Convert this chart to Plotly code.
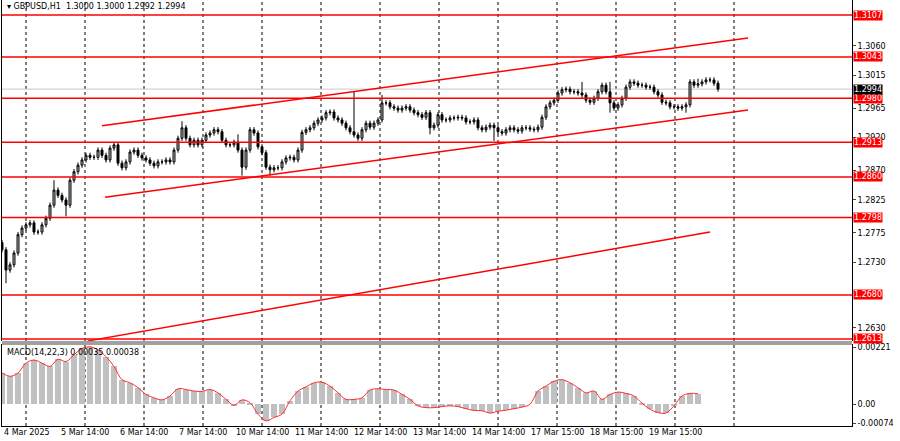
import plotly.graph_objects as go

# hourly-ish closes (GBPUSD H1, 4-19 Mar 2025)
closes = [
    1.2749, 1.2718, 1.2726, 1.2744, 1.2772, 1.2782, 1.2787, 1.2790, 1.2776, 1.2776,
    1.2787, 1.2797, 1.2817, 1.2840, 1.2832, 1.2825, 1.2817, 1.2855, 1.2868, 1.2878,
    1.2886, 1.2893, 1.2890, 1.2890, 1.2901, 1.2893, 1.2886, 1.2904, 1.2909, 1.2881,
    1.2874, 1.2883, 1.2898, 1.2901, 1.2893, 1.2889, 1.2886, 1.2881, 1.2877, 1.2883,
    1.2883, 1.2886, 1.2883, 1.2901, 1.2919, 1.2935, 1.2919, 1.2909, 1.2916, 1.2909,
    1.2916, 1.2924, 1.2927, 1.2932, 1.2929, 1.2916, 1.2909, 1.2909, 1.2913, 1.2901,
    1.2875, 1.2901, 1.2932, 1.2927, 1.2906, 1.2897, 1.2875, 1.2871, 1.2874, 1.2874,
    1.2883, 1.2889, 1.2890, 1.2886, 1.2901, 1.2928, 1.2932, 1.2935, 1.2942, 1.2947,
    1.2950, 1.2958, 1.2959, 1.2950, 1.2947, 1.2942, 1.2935, 1.2929, 1.2924, 1.2919,
    1.2932, 1.2942, 1.2936, 1.2942, 1.2947, 1.2973, 1.2973, 1.2967, 1.2965, 1.2962,
    1.2965, 1.2967, 1.2962, 1.2958, 1.2955, 1.2951, 1.2958, 1.2935, 1.2939, 1.2955,
    1.2947, 1.2947, 1.2950, 1.2950, 1.2951, 1.2950, 1.2944, 1.2944, 1.2947, 1.2935,
    1.2932, 1.2936, 1.2939, 1.2935, 1.2929, 1.2927, 1.2932, 1.2935, 1.2932, 1.2930,
    1.2935, 1.2935, 1.2933, 1.2932, 1.2936, 1.2951, 1.2967, 1.2973, 1.2977, 1.2988,
    1.2993, 1.2994, 1.2990, 1.2990, 1.2988, 1.2985, 1.2977, 1.2974, 1.2980, 1.2990,
    1.3000, 1.2990, 1.2973, 1.2965, 1.2970, 1.2980, 1.2997, 1.3005, 1.3003, 1.3000,
    1.3000, 1.2997, 1.2997, 1.2990, 1.2985, 1.2974, 1.2973, 1.2967, 1.2967, 1.2965,
    1.2967, 1.2970, 1.3005, 1.3000, 1.3002, 1.3005, 1.3008, 1.3008, 1.3003, 1.2994,
]
first_open = 1.2760
wick = 0.0004
spikes_high = {13: 1.2855, 45: 1.2945, 59: 1.2925, 88: 1.2990, 95: 1.2985, 145: 1.3005, 152: 1.3005, 174: 1.3010}
spikes_low = {1: 1.2698, 16: 1.2800, 60: 1.2862, 67: 1.2862, 107: 1.2925, 123: 1.2915, 152: 1.2958, 171: 1.2958}

levels = [1.3107, 1.3043, 1.2980, 1.2913, 1.2860, 1.2798, 1.2680, 1.2613]
last_price = 1.2994
price_ticks = [1.3060, 1.3015, 1.2965, 1.2920, 1.2870, 1.2825, 1.2775, 1.2730, 1.2630]

# trend lines: (x0, y0, x1, y1) in bar index / price
trend_lines = [
    (25.0, 1.2938, 186.5, 1.3072),
    (25.75, 1.2829, 186.5, 1.2962),
    (21.5, 1.2610, 177.0, 1.2776),
]

macd = [
    0.00121, 0.00108, 0.00121, 0.00159, 0.00171, 0.00159, 0.00146, 0.00174, 0.00165, 0.00191,
    0.00216, 0.00222, 0.00210, 0.00184, 0.00146, 0.00095, 0.00083, 0.00064, 0.00038, 0.00025,
    0.00017, 0.00032, 0.00060, 0.00057, 0.00051, 0.00050, 0.00057, 0.00044, 0.00019, -0.00004,
    0.00017, 0.00006, -0.00038, -0.00064, -0.00051, -0.00038, 0.00013, 0.00051, 0.00067, 0.00083,
    0.00085, 0.00070, 0.00044, 0.00019, 0.00019, 0.00025, 0.00055, 0.00060, 0.00057, 0.00055,
    0.00038, 0.00019, -0.00006, -0.00013, -0.00013, -0.00009, -0.00006, -0.00009, -0.00017, -0.00024,
    -0.00025, -0.00034, -0.00027, -0.00023, -0.00017, -0.00011, 0.00000, 0.00051, 0.00070, 0.00089,
    0.00095, 0.00083, 0.00064, 0.00044, 0.00051, 0.00019, 0.00038, 0.00047, 0.00042, 0.00032,
    0.00004, -0.00019, -0.00032, -0.00034, -0.00006, 0.00032, 0.00042, 0.00041,
]

grid_idx = [6 + 14.75 * k for k in range(13)]
date_labels = ["4 Mar 2025", "5 Mar 14:00", "6 Mar 14:00", "7 Mar 14:00", "10 Mar 14:00",
               "11 Mar 14:00", "12 Mar 14:00", "13 Mar 14:00", "14 Mar 14:00", "17 Mar 15:00",
               "18 Mar 15:00", "19 Mar 15:00"]

opens = [first_open] + closes[:-1]
highs, lows = [], []
for i, (o, c) in enumerate(zip(opens, closes)):
    highs.append(max(spikes_high.get(i, 0), max(o, c) + wick))
    lows.append(min(spikes_low.get(i, 9), min(o, c) - wick))
idx = list(range(len(closes)))
macd_idx = [2 * i for i in range(len(macd))]

fig = go.Figure()
fig.add_trace(go.Candlestick(
    x=idx, open=opens, high=highs, low=lows, close=closes,
    increasing=dict(line=dict(color="#000000", width=1), fillcolor="#bbbbbb"),
    decreasing=dict(line=dict(color="#000000", width=1), fillcolor="#000000"),
    whiskerwidth=0, showlegend=False, xaxis="x", yaxis="y"))
fig.add_trace(go.Bar(x=macd_idx, y=macd, width=1.6, marker_color="#c0c0c0",
                     marker_line_width=0, showlegend=False, xaxis="x", yaxis="y2"))
fig.add_trace(go.Scatter(x=macd_idx, y=macd, mode="lines", line=dict(color="#ff3030", width=1),
                         line_shape="spline", showlegend=False, xaxis="x", yaxis="y2"))

shapes = []
for g in grid_idx:
    for yr in ["y", "y2"]:
        shapes.append(dict(type="line", xref="x", yref=yr + " domain", x0=g, x1=g, y0=0, y1=1,
                           line=dict(color="#000000", width=1, dash="3px,3px"), layer="below"))
shapes.append(dict(type="line", xref="x domain", yref="y", x0=0, x1=1, y0=last_price, y1=last_price,
                   line=dict(color="#c8c8c8", width=1), layer="below"))
for lv in levels:
    shapes.append(dict(type="line", xref="x domain", yref="y", x0=0, x1=1, y0=lv, y1=lv,
                       line=dict(color="#ff0000", width=1.5)))
for x0, y0, x1, y1 in trend_lines:
    shapes.append(dict(type="line", xref="x", yref="y", x0=x0, y0=y0, x1=x1, y1=y1,
                       line=dict(color="#ff0000", width=1.5)))
shapes.append(dict(type="rect", xref="paper", yref="paper", x0=0, x1=1, y0=0.1901, y1=0.1995,
                   fillcolor="#a0a0a0", line=dict(width=0)))

ann = []
for lv in levels:
    ann.append(dict(xref="paper", yref="y", x=1.001, y=lv, text=f"{lv:.4f}", showarrow=False,
                    xanchor="left", font=dict(color="white", size=8), bgcolor="#ff0000", borderpad=0))
ann.append(dict(xref="paper", yref="y", x=1.001, y=last_price, text=f"{last_price:.4f}", showarrow=False,
                xanchor="left", font=dict(color="white", size=8), bgcolor="#000000", borderpad=0))
ann.append(dict(xref="paper", yref="paper", x=0.003, y=1, yanchor="top", xanchor="left", showarrow=False,
                text="▾ GBPUSD,H1  1.3000 1.3000 1.2992 1.2994", font=dict(size=8, color="#000")))
ann.append(dict(xref="paper", yref="paper", x=0.003, y=0.188, yanchor="top", xanchor="left", showarrow=False,
                text="MACD(14,22,3) 0.00035 0.00038", font=dict(size=8, color="#000")))
# x-axis date labels
ann.append(dict(xref="paper", yref="paper", x=0.0, y=0, yanchor="top", xanchor="left", showarrow=False,
                text=date_labels[0], font=dict(size=8, color="#000")))
for k in range(1, 12):
    ann.append(dict(xref="x", yref="paper", x=grid_idx[k], y=0, yanchor="top", xanchor="center",
                    showarrow=False, text=date_labels[k], font=dict(size=8, color="#000")))

fig.update_layout(
    width=900, height=441, margin=dict(l=2, r=48, t=0, b=15),
    paper_bgcolor="white", plot_bgcolor="white",
    font=dict(family="DejaVu Sans", size=8, color="#000"),
    shapes=shapes, annotations=ann, bargap=0,
    xaxis=dict(range=[0, 212.5], showticklabels=False, showgrid=False, automargin=False,
               zeroline=False, rangeslider=dict(visible=False), showline=True, linecolor="#000",
               mirror=True, ticks="", anchor="y2"),
    yaxis=dict(domain=[0.1995, 1], range=[1.26098, 1.31299], side="right", tickvals=price_ticks,
               tickformat=".4f", showgrid=False, zeroline=False, showline=True, linecolor="#000",
               mirror=True, ticks="outside", ticklen=3, tickfont=dict(size=8), automargin=False),
    yaxis2=dict(domain=[0, 0.1901], range=[-0.00084, 0.00229], side="right",
                tickvals=[0.00221, 0.0, -0.00074], ticktext=["0.00221", "0.00", "-0.00074"],
                showgrid=False, zeroline=False, showline=True, linecolor="#000", mirror=True,
                ticks="outside", ticklen=3, tickfont=dict(size=8), automargin=False),
)

fig.write_html("out.html", config={"displayModeBar": False},
               post_script="document.body.style.margin='0';")
